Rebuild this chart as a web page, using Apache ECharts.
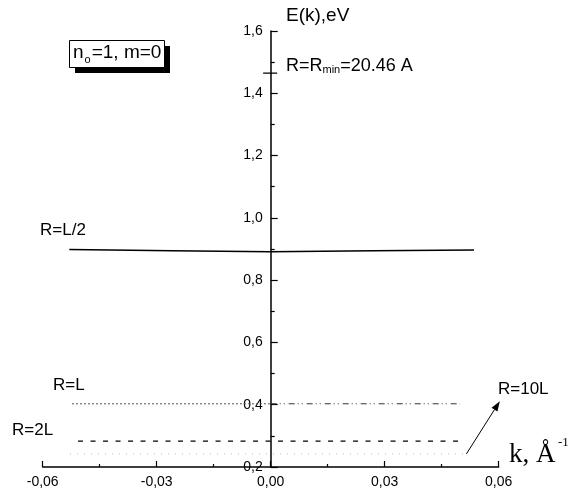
<!DOCTYPE html>
<html><head><meta charset="utf-8">
<script src="https://cdn.jsdelivr.net/npm/echarts@6/dist/echarts.min.js"></script>
<style>html,body{margin:0;padding:0;background:#fff}#c{width:571px;height:493px}</style>
</head><body><div id="c"></div>
<script>
// ---- data ----
var xTicks = [-0.06, -0.03, 0.00, 0.03, 0.06];
var yTicks = [0.2, 0.4, 0.6, 0.8, 1.0, 1.2, 1.4, 1.6];
var halfL = [[-0.053, 0.898], [-0.026, 0.894], [0, 0.891], [0.027, 0.894], [0.0535, 0.897]]; // R=L/2
var lLeft = [[-0.0523, 0.403], [0, 0.403]];   // R=L (k<0)
var lRight = [[0, 0.403], [0.0498, 0.403]];   // R=L (k>0)
var twoL = [[-0.0507, 0.283], [0.0509, 0.283]]; // R=2L
var tenL = [[-0.0528, 0.242], [0.052, 0.242]];  // R=10L
var rmin = [[-0.002, 1.465], [0.0017, 1.465]];  // R=Rmin marker
var arrowFrom = [0.0515, 0.242], arrowTo = [0.0603, 0.4115];

var FONT = 'Liberation Sans, Arial, sans-serif';
var GL = 42.7, GR = 72.3, W = 571;
var chart = echarts.init(document.getElementById('c'));
function ln(data, type, dash, color, width) {
  return {type: 'line', data: data, symbol: 'none', silent: true, animation: false,
    lineStyle: {color: color || '#000', width: width || 1.2, type: dash ? dash : type}};
}
var gridW = W - GL - GR;
var zeroOffset = -gridW * (0 - xTicks[0]) / (xTicks[xTicks.length - 1] - xTicks[0]);
chart.setOption({
  animation: false,
  grid: {left: GL, right: GR, top: 31, bottom: 26, containLabel: false},
  xAxis: {type: 'value', min: xTicks[0], max: xTicks[xTicks.length - 1], interval: 0.03,
    axisLine: {onZero: false, lineStyle: {color: '#000', width: 1.5}},
    axisTick: {inside: true, length: 6, lineStyle: {color: '#000', width: 1.2}},
    minorTick: {show: true, splitNumber: 2, length: 3, lineStyle: {color: '#000', width: 1.2}},
    splitLine: {show: false},
    axisLabel: {margin: 8, fontSize: 14, color: '#000', fontFamily: FONT,
      formatter: function (v) { return v.toFixed(2).replace('.', ','); }}},
  yAxis: {type: 'value', min: yTicks[0], max: yTicks[yTicks.length - 1], interval: 0.2,
    position: 'left', offset: zeroOffset,
    axisLine: {onZero: false, lineStyle: {color: '#000', width: 1.5}},
    axisTick: {inside: true, length: 7, lineStyle: {color: '#000', width: 1.2}},
    minorTick: {show: true, splitNumber: 2, length: 4, lineStyle: {color: '#000', width: 1.2}},
    splitLine: {show: false},
    axisLabel: {margin: 8, fontSize: 14, color: '#000', fontFamily: FONT,
      formatter: function (v) { return v.toFixed(1).replace('.', ','); }}},
  series: [
    ln(halfL, 'solid', null, '#000', 1.5),
    ln(lLeft, null, [2, 2], '#555', 1),
    ln(lRight, null, [6, 3, 1, 3, 1, 4], '#333', 1),
    ln(twoL, null, [5, 7.5], '#000', 1.3),
    ln(tenL, null, [1, 6], '#b8b8b8', 1),
    ln(rmin, 'solid', null, '#000', 1.2)
  ],
  graphic: [
    {id: 't1', type: 'text', left: 286, top: 6, style: {text: 'E(k),eV', font: '19px ' + FONT, fill: '#000'}},
    {id: 't2', type: 'text', left: 286, top: 57, style: {text: '{a|R=R}{s|min}{a|=20.46 A}', fill: '#000',
      rich: {a: {font: '18px ' + FONT, verticalAlign: 'bottom'}, s: {font: '11px ' + FONT, padding: [10, 0, 0, 0]}}}},
    {id: 'b1', type: 'rect', shape: {x: 75, y: 46, width: 95, height: 27}, style: {fill: '#000'}},
    {id: 'b2', type: 'rect', shape: {x: 69.5, y: 40.5, width: 95, height: 27}, style: {fill: '#fff', stroke: '#000', lineWidth: 1}},
    {id: 't3', type: 'text', left: 73, top: 43, style: {text: '{a|n}{s|o}{a|=1, m=0}', fill: '#000',
      rich: {a: {font: '19px ' + FONT}, s: {font: '11px ' + FONT, padding: [14, 1, 0, 1]}}}},
    {id: 't4', type: 'text', left: 40, top: 222, style: {text: 'R=L/2', font: '17px ' + FONT, fill: '#000'}},
    {id: 't5', type: 'text', left: 53, top: 377, style: {text: 'R=L', font: '17px ' + FONT, fill: '#000'}},
    {id: 't6', type: 'text', left: 12, top: 422, style: {text: 'R=2L', font: '17px ' + FONT, fill: '#000'}},
    {id: 't7', type: 'text', left: 498, top: 381, style: {text: 'R=10L', font: '17px ' + FONT, fill: '#000'}},
    {id: 't8', type: 'text', left: 509, top: 441, style: {text: 'k, Å', font: '27px Liberation Serif, Times New Roman, serif', fill: '#000'}},
    {id: 't9', type: 'text', left: 558, top: 436, style: {text: '-1', font: '13px Liberation Serif, Times New Roman, serif', fill: '#000'}}
  ]
});
// arrow pointing to the R=10L label, placed in data coordinates
var p0 = chart.convertToPixel({gridIndex: 0}, arrowFrom);
var p1 = chart.convertToPixel({gridIndex: 0}, arrowTo);
var ang = Math.atan2(p1[1] - p0[1], p1[0] - p0[0]);
var hl = 10, hw = 3.5;
var bx = p1[0] - hl * Math.cos(ang), by = p1[1] - hl * Math.sin(ang);
var nx = -Math.sin(ang) * hw, ny = Math.cos(ang) * hw;
chart.setOption({graphic: [
  {id: 'a1', type: 'line', shape: {x1: p0[0], y1: p0[1], x2: bx, y2: by}, style: {stroke: '#000', lineWidth: 1}},
  {id: 'a2', type: 'polygon', shape: {points: [[p1[0], p1[1]], [bx + nx, by + ny], [bx - nx, by - ny]]}, style: {fill: '#000'}}
]});
</script></body></html>
